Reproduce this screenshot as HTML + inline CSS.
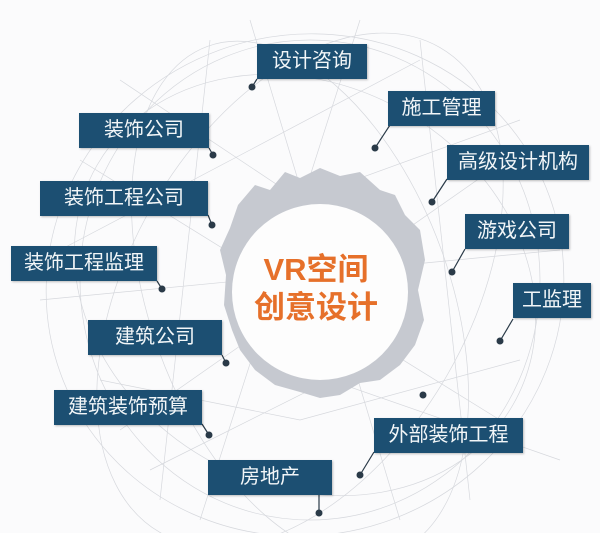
<!DOCTYPE html>
<html><head><meta charset="utf-8"><style>
html,body{margin:0;padding:0;background:#fbfbfc;width:600px;height:533px;overflow:hidden;}
#c{position:relative;width:600px;height:533px;overflow:hidden;background:#fbfbfc;font-family:"Liberation Sans","Noto Sans CJK SC",sans-serif;}
.b{position:absolute;background:#1c4f72;color:#f2f6f8;font-size:20px;line-height:35px;height:35px;text-align:center;box-shadow:1px 1px 2px rgba(0,0,0,.25);}
svg{position:absolute;left:0;top:0;display:block;}
.t{position:absolute;color:#e6702a;font-weight:bold;font-size:31px;line-height:38px;text-align:center;width:200px;left:216px;}
</style></head><body><div id="c">
<svg width="600" height="533" viewBox="0 0 600 533">
<g fill="none" stroke="#d6d8dd" stroke-width="0.7">
<ellipse cx="305" cy="285" rx="260" ry="250" transform="rotate(-20 305 285)"/>
<ellipse cx="305" cy="285" rx="240" ry="200" transform="rotate(30 305 285)"/>
<ellipse cx="300" cy="290" rx="280" ry="170" transform="rotate(-60 300 290)"/>
<ellipse cx="300" cy="300" rx="270" ry="150" transform="rotate(70 300 300)"/>
<ellipse cx="310" cy="280" rx="230" ry="240"/>
<path d="M120 80 L300 200 L520 120 M60 250 L250 150 L420 60 M100 380 L300 420 L520 360 M150 470 L330 380 L560 460 M210 40 L160 500 M420 40 L470 500 M40 300 L560 250 M80 160 L500 420 M520 150 L120 430 M250 20 L400 520 M360 20 L200 520"/>
</g>
<path d="M238 205 L255 185 L270 190 L285 172 L300 178 L320 168 L340 176 L360 172 L380 190 L395 195 L405 215 L420 230 L425 260 L418 290 L424 320 L415 345 L400 365 L380 380 L360 383 L340 395 L320 398 L300 392 L275 385 L255 370 L240 350 L232 330 L224 305 L226 275 L220 250 L230 228 Z" fill="#c6c9d0"/>
<circle cx="320" cy="292" r="88" fill="#fdfdfd"/>
<g fill="none" stroke="#2a3a48" stroke-width="1.2">
<path d="M257 79 L252 87 M209 148 L213 155 M208 215 L212 225 M157 281 L162 289 M222 355 L226 363 M202 424 L209 435 M319 495 L319 513 M374 452 L360 475 M390 125 L375 148 M447 179 L432 202 M465 249 L452 272 M513 319 L500 341"/>
</g>
<g fill="#2a3a48">
<circle cx="252" cy="87" r="3.5"/><circle cx="213" cy="155" r="3.5"/><circle cx="212" cy="225" r="3.5"/><circle cx="162" cy="289" r="3.5"/><circle cx="226" cy="363" r="3.5"/><circle cx="209" cy="435" r="3.5"/><circle cx="319" cy="513" r="3.5"/><circle cx="360" cy="475" r="3.5"/><circle cx="375" cy="148" r="3.5"/><circle cx="432" cy="202" r="3.5"/><circle cx="452" cy="272" r="3.5"/><circle cx="500" cy="341" r="3.5"/><circle cx="423" cy="395" r="3.5"/>
</g>
</svg>
<div class="t" style="top:251px;">VR空间</div>
<div class="t" style="top:289px;">创意设计</div>
<div class="b" style="left:257px;top:44px;width:110px;">设计咨询</div>
<div class="b" style="left:388px;top:91px;width:107px;">施工管理</div>
<div class="b" style="left:447px;top:145px;width:142px;">高级设计机构</div>
<div class="b" style="left:465px;top:214px;width:104px;">游戏公司</div>
<div class="b" style="left:513px;top:283px;width:78px;">工监理</div>
<div class="b" style="left:374px;top:418px;width:149px;">外部装饰工程</div>
<div class="b" style="left:208px;top:460px;width:124px;">房地产</div>
<div class="b" style="left:54px;top:390px;width:148px;">建筑装饰预算</div>
<div class="b" style="left:88px;top:320px;width:134px;">建筑公司</div>
<div class="b" style="left:11px;top:246px;width:146px;">装饰工程监理</div>
<div class="b" style="left:40px;top:181px;width:168px;">装饰工程公司</div>
<div class="b" style="left:79px;top:113px;width:130px;">装饰公司</div>
</div></body></html>
